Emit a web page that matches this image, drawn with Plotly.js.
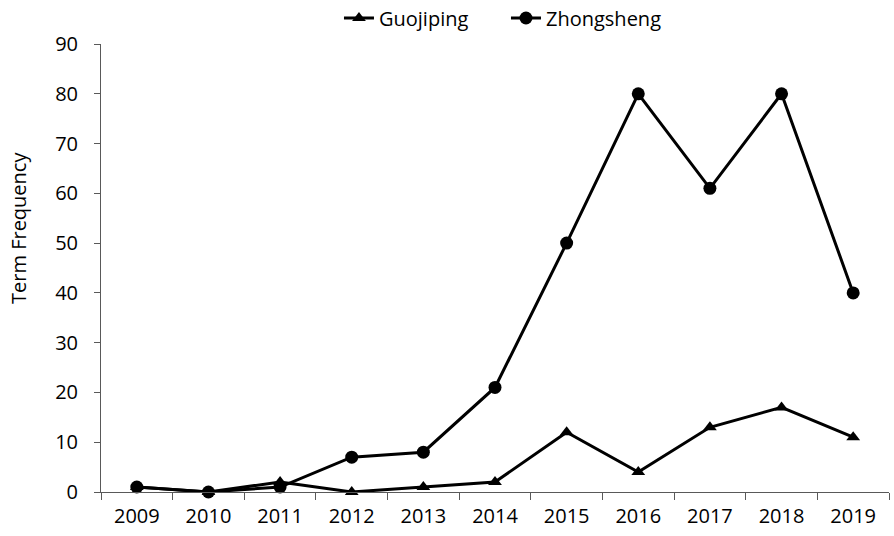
<!DOCTYPE html>
<html>
<head>
<meta charset="utf-8">
<script src="https://cdn.plot.ly/plotly-3.0.1.min.js"></script>
<style>html,body{margin:0;padding:0;background:#fff;}#chart{width:894px;height:536px;}</style>
</head>
<body>
<div id="chart"></div>
<script>
const years = ['2009','2010','2011','2012','2013','2014','2015','2016','2017','2018','2019'];
const guojiping = [1, 0, 2, 0, 1, 2, 12, 4, 13, 17, 11];
const zhongsheng = [1, 0, 1, 7, 8, 21, 50, 80, 61, 80, 40];
const yTicks = [0, 10, 20, 30, 40, 50, 60, 70, 80, 90];

const FONT = '"Open Sans", "Noto Sans", sans-serif';

const traces = [
  {x: years, y: guojiping, name: 'Guojiping', type: 'scatter', mode: 'lines+markers',
   line: {color: '#000', width: 3}, marker: {symbol: 'triangle-up', size: 12, color: '#000'},
   cliponaxis: false},
  {x: years, y: zhongsheng, name: 'Zhongsheng', type: 'scatter', mode: 'lines+markers',
   line: {color: '#000', width: 3}, marker: {symbol: 'circle', size: 13, color: '#000'},
   cliponaxis: false}
];

const layout = {
  width: 894, height: 536,
  margin: {l: 101, r: 5, t: 44, b: 44, autoexpand: false},
  paper_bgcolor: '#fff', plot_bgcolor: '#fff',
  font: {family: FONT, color: '#000', size: 20},
  showlegend: true,
  legend: {orientation: 'h', x: 0.302, xanchor: 'left', y: 1.058, yanchor: 'middle',
           font: {family: FONT, size: 20, color: '#000'}, itemwidth: 30, tracegroupgap: 0,
           entrywidth: 122, entrywidthmode: 'pixels'},
  xaxis: {type: 'category', range: [-0.5, 10.5], tickson: 'boundaries',
          ticks: 'outside', ticklen: 7, tickcolor: '#595959', tickwidth: 1,
          showline: true, linecolor: '#595959', linewidth: 1, showgrid: false, zeroline: false,
          ticklabelstandoff: 6,
          tickfont: {family: FONT, size: 20, color: '#000'}, fixedrange: true},
  yaxis: {range: [0, 90], tickvals: yTicks, ticktext: yTicks.map(String),
          ticks: 'outside', ticklen: 6, tickcolor: '#595959', tickwidth: 1,
          showline: true, linecolor: '#595959', linewidth: 1, showgrid: false, zeroline: false,
          ticklabelstandoff: 12,
          tickfont: {family: FONT, size: 20, color: '#000'},
          fixedrange: true},
  annotations: [{text: 'Term Frequency', textangle: -90, showarrow: false,
                 xref: 'paper', yref: 'paper', x: (18 - 101) / 788, y: (492 - 228) / 448,
                 xanchor: 'center', yanchor: 'middle',
                 font: {family: FONT, size: 20, color: '#000'}}]
};

Plotly.newPlot('chart', traces, layout, {displayModeBar: false, staticPlot: true});
</script>
</body>
</html>
